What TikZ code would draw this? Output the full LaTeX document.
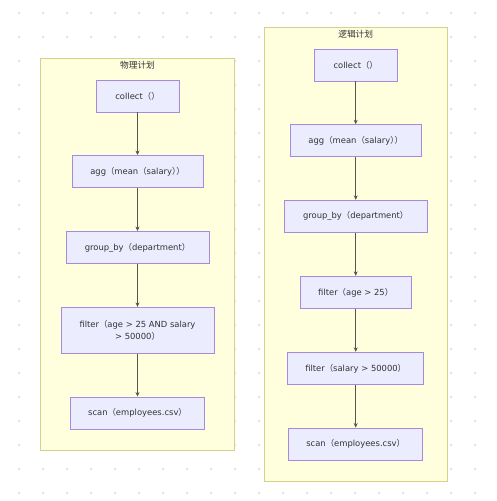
\documentclass[tikz,border=0pt]{standalone}
\usepackage{fontspec}
\setmainfont{DejaVu Sans}
\newfontfamily\cjk{Noto Sans CJK SC}
\usetikzlibrary{arrows.meta}
\definecolor{nodefill}{HTML}{ECECFF}
\definecolor{nodestroke}{HTML}{A48BDF}
\definecolor{clfill}{HTML}{FFFFDE}
\definecolor{clstroke}{HTML}{D2D28C}
\definecolor{txt}{HTML}{333333}
\definecolor{edge}{HTML}{555555}
\definecolor{griddot}{HTML}{E2E2E2}
\newcommand{\lp}{{\cjk （}}
\newcommand{\rp}{{\cjk ）}}
\newcommand{\rpp}{{\cjk ）\kern-0.5em）}}
\tikzset{
  opbox/.style={draw=nodestroke, fill=nodefill, line width=0.9pt, rectangle,
    minimum height=32pt, inner sep=2pt, font=\fontsize{8.4}{11.5}\selectfont, text=txt, align=center},
  cluster/.style={draw=clstroke, fill=clfill, line width=1pt},
  cltitle/.style={font=\cjk\fontsize{8.7}{10}\selectfont, text=txt},
  flow/.style={draw=edge, line width=0.7pt, -{Stealth[length=4.5pt,width=4pt]}}
}
\begin{document}
\begin{tikzpicture}[x=1pt,y=-1pt]
\useasboundingbox (0,0) rectangle (496,501);
\fill[white] (0,0) rectangle (496,501);
% dot grid
\foreach \i in {0,...,20} {
  \foreach \j in {0,...,20} {
    \fill[griddot] (19+24*\i, 13+24*\j) circle (1.3);
  }
}
% clusters
\draw[cluster] (40.5,58) rectangle (234.5,450.5);
\node[cltitle] (ltitle) at (137.5,65) {物理计划};
\draw[cluster] (264,27) rectangle (447.5,481);
\node[cltitle] (rtitle) at (355.7,34) {逻辑计划};
% left nodes
\node[opbox, minimum width=83pt] (Lcollect) at (137.5,96) {collect\lp\rp};
\node[opbox, minimum width=131pt] (Lagg) at (137.5,171.5) {agg\lp mean\lp salary\rpp};
\node[opbox, minimum width=143pt] (Lgroup) at (137.5,247.5) {group\_by\lp department\rp};
\node[opbox, minimum width=153pt, minimum height=46pt] (Lfilter) at (137.5,330.3) {filter\lp age > 25 AND salary\\> 50000\rp};
\node[opbox, minimum width=134pt] (Lscan) at (137.5,413) {scan\lp employees.csv\rp};
% right nodes
\node[opbox, minimum width=83pt] (Rcollect) at (355.7,65) {collect\lp\rp};
\node[opbox, minimum width=131pt] (Ragg) at (355.7,140.7) {agg\lp mean\lp salary\rpp};
\node[opbox, minimum width=143pt] (Rgroup) at (355.7,216.3) {group\_by\lp department\rp};
\node[opbox, minimum width=111pt] (Rfilter1) at (355.7,292.3) {filter\lp age > 25\rp};
\node[opbox, minimum width=136pt] (Rfilter2) at (355.7,368.3) {filter\lp salary > 50000\rp};
\node[opbox, minimum width=134pt] (Rscan) at (355.7,444) {scan\lp employees.csv\rp};
% edges
\draw[flow] (Lcollect) -- (Lagg);
\draw[flow] (Lagg) -- (Lgroup);
\draw[flow] (Lgroup) -- (Lfilter);
\draw[flow] (Lfilter) -- (Lscan);
\draw[flow] (Rcollect) -- (Ragg);
\draw[flow] (Ragg) -- (Rgroup);
\draw[flow] (Rgroup) -- (Rfilter1);
\draw[flow] (Rfilter1) -- (Rfilter2);
\draw[flow] (Rfilter2) -- (Rscan);
\end{tikzpicture}
\end{document}
